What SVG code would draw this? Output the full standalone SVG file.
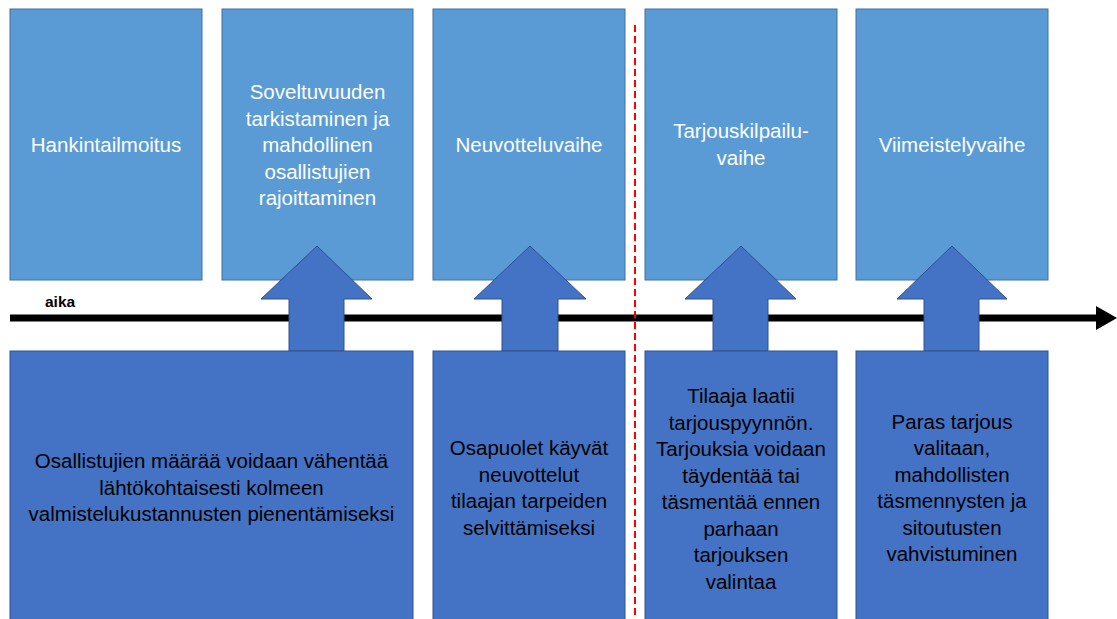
<svg xmlns="http://www.w3.org/2000/svg" width="1117" height="619" viewBox="0 0 1117 619">
  <style>
    .phase { fill: #5B9BD5; stroke: #41719C; stroke-width: 1; }
    .desc { fill: #4472C4; stroke: #2F528F; stroke-width: 1; }
    .up { fill: #4472C4; stroke: #2F528F; stroke-width: 1; }
    .t { font-family: "Liberation Sans", Arial, sans-serif; font-size: 20.5px; text-anchor: middle; }
    .w { fill: #FFFFFF; }
    .b { fill: #000000; }
    .axis { stroke: #000; stroke-width: 7; fill: none; }
    .split { stroke: #FF0000; stroke-width: 2; stroke-dasharray: 7 4; fill: none; }
  </style>
  <defs>
    <marker id="axisHead" markerWidth="4" markerHeight="4" refX="0" refY="2" orient="auto" markerUnits="strokeWidth">
      <path d="M0,0.3 L3,2 L0,3.7 Z" fill="#000"/>
    </marker>
  </defs>
  <rect width="1117" height="619" fill="#FFFFFF"/>

  <!-- phase boxes (top row) -->
  <g id="phase-hankintailmoitus">
    <rect class="phase" x="10" y="9" width="192" height="271"/>
    <text class="t w" x="106" y="152">Hankintailmoitus</text>
  </g>
  <g id="phase-soveltuvuus">
    <rect class="phase" x="222" y="9" width="191" height="271"/>
    <text class="t w" x="317.5" y="99">Soveltuvuuden</text>
    <text class="t w" x="317.5" y="125.5">tarkistaminen ja</text>
    <text class="t w" x="317.5" y="152">mahdollinen</text>
    <text class="t w" x="317.5" y="178.5">osallistujien</text>
    <text class="t w" x="317.5" y="205">rajoittaminen</text>
  </g>
  <g id="phase-neuvottelu">
    <rect class="phase" x="433" y="9" width="192" height="271"/>
    <text class="t w" x="529" y="152">Neuvotteluvaihe</text>
  </g>
  <g id="phase-tarjouskilpailu">
    <rect class="phase" x="645" y="9" width="192" height="271"/>
    <text class="t w" x="741" y="138">Tarjouskilpailu-</text>
    <text class="t w" x="741" y="164.5">vaihe</text>
  </g>
  <g id="phase-viimeistely">
    <rect class="phase" x="856" y="9" width="192" height="271"/>
    <text class="t w" x="952" y="152">Viimeistelyvaihe</text>
  </g>

  <!-- time axis, lift arrows and the dashed divider -->
  <g id="connectors">
    <line class="axis" x1="10" y1="318" x2="1096" y2="318" marker-end="url(#axisHead)"/>
    <text x="45" y="307" font-family="Liberation Sans, Arial, sans-serif" font-size="15.5" font-weight="bold" fill="#000">aika</text>

    <path class="up" d="M289,351 L289,299 L261,299 L317,246 L372,299 L344,299 L344,351 Z"/>
    <path class="up" d="M502,351 L502,299 L474,299 L530,246 L586,299 L558,299 L558,351 Z"/>
    <path class="up" d="M713,351 L713,299 L685,299 L741,246 L796,299 L768,299 L768,351 Z"/>
    <path class="up" d="M924,351 L924,299 L897,299 L952,246 L1007,299 L979,299 L979,351 Z"/>

    <line class="split" x1="635" y1="25" x2="635" y2="619"/>
  </g>

  <!-- description boxes (bottom row) -->
  <g id="desc-rajoittaminen">
    <rect class="desc" x="10" y="351" width="403" height="280"/>
    <text class="t b" x="211.5" y="468">Osallistujien määrää voidaan vähentää</text>
    <text class="t b" x="211.5" y="494.5">lähtökohtaisesti kolmeen</text>
    <text class="t b" x="211.5" y="521">valmistelukustannusten pienentämiseksi</text>
  </g>
  <g id="desc-neuvottelu">
    <rect class="desc" x="433" y="351" width="192" height="280"/>
    <text class="t b" x="529" y="455">Osapuolet käyvät</text>
    <text class="t b" x="529" y="481.5">neuvottelut</text>
    <text class="t b" x="529" y="508">tilaajan tarpeiden</text>
    <text class="t b" x="529" y="534.5">selvittämiseksi</text>
  </g>
  <g id="desc-tarjouskilpailu">
    <rect class="desc" x="645" y="351" width="192" height="280"/>
    <text class="t b" x="741" y="403">Tilaaja laatii</text>
    <text class="t b" x="741" y="429.5">tarjouspyynnön.</text>
    <text class="t b" x="741" y="456">Tarjouksia voidaan</text>
    <text class="t b" x="741" y="482.5">täydentää tai</text>
    <text class="t b" x="741" y="509">täsmentää ennen</text>
    <text class="t b" x="741" y="535.5">parhaan</text>
    <text class="t b" x="741" y="562">tarjouksen</text>
    <text class="t b" x="741" y="588.5">valintaa</text>
  </g>
  <g id="desc-viimeistely">
    <rect class="desc" x="856" y="351" width="192" height="280"/>
    <text class="t b" x="952" y="428.5">Paras tarjous</text>
    <text class="t b" x="952" y="455">valitaan,</text>
    <text class="t b" x="952" y="481.5">mahdollisten</text>
    <text class="t b" x="952" y="508">täsmennysten ja</text>
    <text class="t b" x="952" y="534.5">sitoutusten</text>
    <text class="t b" x="952" y="561">vahvistuminen</text>
  </g>
</svg>
